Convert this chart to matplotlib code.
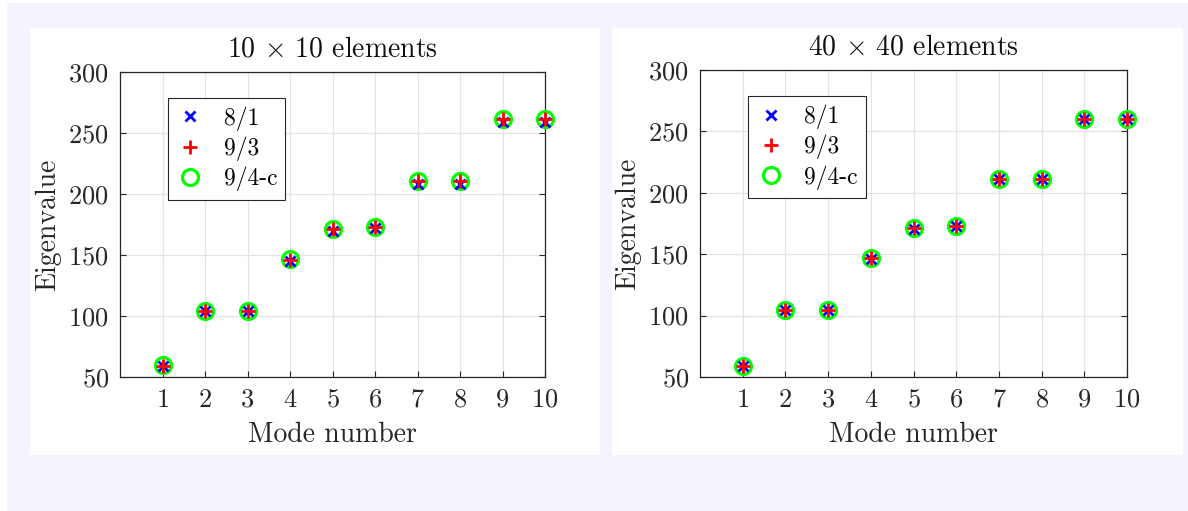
import matplotlib
matplotlib.use("Agg")
import matplotlib.pyplot as plt
from matplotlib.patches import Rectangle

plt.rcParams["font.family"] = "serif"
plt.rcParams["font.serif"] = ["cmr10", "DejaVu Serif"]
plt.rcParams["mathtext.fontset"] = "cm"
plt.rcParams["axes.formatter.use_mathtext"] = True

modes = [1, 2, 3, 4, 5, 6, 7, 8, 9, 10]

# 10 x 10 elements
coarse_81 = [58.8, 103.8, 103.8, 145.4, 169.3, 172.4, 208.3, 208.3, 258.8, 258.8]
coarse_93 = [59.3, 104.3, 104.3, 146.3, 171.0, 172.9, 210.6, 210.6, 261.2, 261.2]
coarse_94c = [59.5, 104.5, 104.5, 146.5, 171.2, 173.1, 211.0, 211.0, 261.5, 261.5]

# 40 x 40 elements
fine_81 = [59.2, 104.2, 104.2, 146.4, 170.8, 172.6, 210.9, 210.9, 259.9, 259.9]
fine_93 = [59.3, 104.3, 104.3, 146.5, 171.0, 172.7, 211.1, 211.1, 260.1, 260.1]
fine_94c = [59.3, 104.3, 104.3, 146.5, 171.0, 172.7, 211.1, 211.1, 260.1, 260.1]

titles = [r"10 $\times$ 10 elements", r"40 $\times$ 40 elements"]
series_labels = ["8/1", "9/3", "9/4-c"]
yticks = [50, 100, 150, 200, 250, 300]

W, H = 1188, 511
fig = plt.figure(figsize=(W / 100, H / 100), dpi=100, facecolor="white")

# lavender page and the two white panels behind the axes
fig.patches.append(Rectangle((7 / W, 0), 1 - 7 / W, 1 - 3 / H, transform=fig.transFigure,
                             facecolor="#f3f4fd", edgecolor="none", zorder=-3))
for x0, x1 in [(30, 600), (612, 1183)]:
    fig.patches.append(Rectangle((x0 / W, 56 / H), (x1 - x0) / W, 427 / H,
                                 transform=fig.transFigure, facecolor="white",
                                 edgecolor="none", zorder=-2))

axes_px = [(120, 545, 72, 377), (700, 1127, 70, 377)]
data = [(coarse_81, coarse_93, coarse_94c), (fine_81, fine_93, fine_94c)]

for (l, r, t, b), title, (s81, s93, s94) in zip(axes_px, titles, data):
    ax = fig.add_axes([l / W, (H - b) / H, (r - l) / W, (b - t) / H])
    ax.set_facecolor("white")
    ax.plot(modes, s81, linestyle="none", marker="x", color="blue",
            markersize=7, markeredgewidth=2.0, label=series_labels[0],
            zorder=4, clip_on=False)
    ax.plot(modes, s93, linestyle="none", marker="+", color="red",
            markersize=10, markeredgewidth=2.0, label=series_labels[1],
            zorder=5, clip_on=False)
    ax.plot(modes, s94, linestyle="none", marker="o", color="#00ff00",
            markerfacecolor="none", markersize=11.5, markeredgewidth=2.3,
            label=series_labels[2], zorder=3, clip_on=False)

    ax.set_xlim(0, 10)
    ax.set_ylim(50, 300)
    ax.set_xticks(modes)
    ax.set_yticks(yticks)
    ax.tick_params(direction="in", length=4, width=0.8, colors="#262626",
                   labelsize=19, top=False, right=True, pad=8)
    ax.grid(True, color="#e3e3e3", linewidth=0.9)
    ax.set_axisbelow(True)
    for sp in ax.spines.values():
        sp.set_color("#262626")
        sp.set_linewidth(0.9)

    ax.set_title(title, fontsize=20, color="#111111", pad=11)
    ax.set_xlabel("Mode number", fontsize=20, color="#262626", labelpad=7)
    ax.set_ylabel("Eigenvalue", fontsize=20, color="#262626", labelpad=5)

    leg = ax.legend(loc="upper left", bbox_to_anchor=(0.113, 0.915), borderaxespad=0,
                    fontsize=17, frameon=True, fancybox=False, framealpha=1,
                    edgecolor="#262626", handlelength=1.2, handletextpad=0.8,
                    labelspacing=0.25, borderpad=0.35)
    leg.get_frame().set_linewidth(0.8)
    leg.set_zorder(6)

fig.savefig("out.png", dpi=100, facecolor=fig.get_facecolor())
